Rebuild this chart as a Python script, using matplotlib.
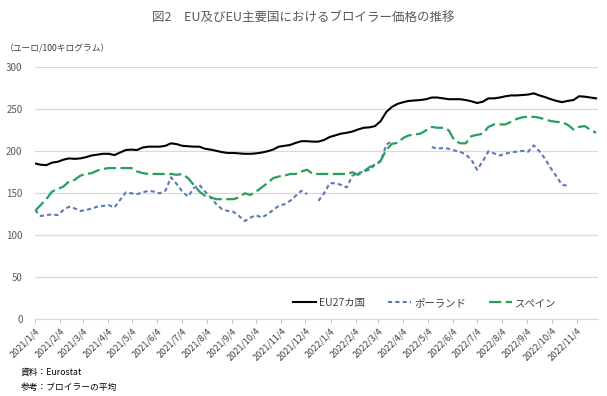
import matplotlib
matplotlib.use('Agg')
import matplotlib.pyplot as plt
import numpy as np
import pandas as pd

plt.rcParams['font.family'] = ['Noto Sans CJK JP', 'DejaVu Sans']

# weekly price data, euro / 100kg
weeks = pd.date_range('2021-01-04', periods=100, freq='7D')

eu27 = [185.5, 184, 183.5, 186.5, 187.5, 190, 191.5, 191, 191.5, 193,
        195, 196, 197, 197, 195.5, 198.5, 201.5, 202, 201.5, 204.5,
        205.5, 205.5, 205.5, 206.5, 209.5, 208.5,
        206.5, 206, 205.5, 205.5, 203, 202, 200.5, 199, 198, 198,
        197.5, 197, 197, 197.5, 198.5, 200, 202, 205.5, 206.5, 207.5,
        210, 212, 212, 211.5, 211.5,
        213.5, 217, 219, 221, 222, 223.5, 226, 228, 228.5, 230,
        236, 247, 253, 256.5, 258.5, 260, 260.5, 261, 262, 264,
        264, 263, 262, 262, 262,
        261, 259.5, 257.5, 259, 263, 263, 264, 265.5, 266.5, 266.5,
        267, 267.5, 269, 266.5, 264.5, 262, 260, 258.5, 260, 261,
        265.5, 265, 264, 263]

nan = np.nan
poland = [130, 123, 124, 125, 124, 130, 134, 132, 129, 130,
          132, 134, 135, 136, 133, 142, 151, 150, 149, 151,
          153, 152, 150, 153, 169, 161,
          152, 146, 156, 160, 152, 145, 137, 131, 129, 128,
          123, 117, 121, 124, 121, 125, 130, 135, 137, 141,
          147, 153, 149, nan,
          141, 150, 162, 162, 160, 157, 171, 174, 176, 178,
          184, 188, 208, 212,
          nan, nan, nan, nan, nan, nan,
          205, 203, 204, 203, 201, 199.5, 196, 190, 178, 188,
          200, 197.5, 195, 197, 199, 199.5, 200.5, 199.5, 207, 200,
          191, 180, 170, 160, 159,
          nan, nan, nan, nan, nan]

spain = [129, 136, 143, 152, 155, 158, 164, 166, 171, 173,
         174, 177, 179, 180, 180, 180, 180, 180, 176, 174,
         173, 173, 173, 173, 173, 172,
         173, 168, 160, 152, 147, 145, 143, 143, 143, 143,
         145, 150, 148, 152, 157, 162, 168, 170, 171, 173,
         173, 176, 178, 173, 173,
         173, 173, 173, 173, 173, 175, 172, 176, 181, 184,
         189, 202, 209, 210, 216, 219, 220, 221, 225, 229,
         228, 228, 225, 213, 209.5,
         209.5, 218, 219.5, 221, 229, 232, 232, 232, 235, 238.5,
         240.5, 241, 241, 240, 238, 236, 235, 234.5, 231.5, 226,
         229, 230, 225.5, 222]

tick_dates = pd.date_range('2021-01-01', periods=23, freq='MS') + pd.Timedelta(days=3)
tick_labels = ['2021/1/4', '2021/2/4', '2021/3/4', '2021/4/4', '2021/5/4', '2021/6/4',
               '2021/7/4', '2021/8/4', '2021/9/4', '2021/10/4', '2021/11/4', '2021/12/4',
               '2022/1/4', '2022/2/4', '2022/3/4', '2022/4/4', '2022/5/4', '2022/6/4',
               '2022/7/4', '2022/8/4', '2022/9/4', '2022/10/4', '2022/11/4']

fig = plt.figure(figsize=(6.07, 3.96), dpi=100)
ax = fig.add_axes([0.0577, 0.1937, 0.927, 0.6364])

ax.plot(weeks, eu27, color='black', lw=1.5, label='EU27カ国')
ax.plot(weeks, poland, color='#5B79B6', lw=1.5, dashes=(2, 1.5), label='ポーランド')
ax.plot(weeks, spain, color='#25A05A', lw=1.6, dashes=(5.5, 2), label='スペイン')

ax.set_ylim(0, 300)
ax.set_yticks(range(0, 301, 50))
ax.set_xlim(pd.Timestamp('2021-01-04'), pd.Timestamp('2022-11-30'))
ax.set_xticks(tick_dates)
ax.set_xticklabels(tick_labels, rotation=45, ha='right', rotation_mode='anchor',
                   fontsize=6.5, color='#404040')
ax.tick_params(axis='x', length=3, color='#BFBFBF', pad=2)
ax.tick_params(axis='y', length=0, labelsize=7, labelcolor='#595959', pad=9)
ax.grid(axis='y', color='#D9D9D9', lw=0.9)
ax.set_axisbelow(True)
for s in ['top', 'right', 'left']:
    ax.spines[s].set_visible(False)
ax.spines['bottom'].set_color('#D9D9D9')

fig.legend(loc='center', bbox_to_anchor=(0.70, 0.235), ncol=3, frameon=False,
           fontsize=7.5, handlelength=2.2, columnspacing=2.2, handletextpad=0.3,
           labelcolor='#404040')

fig.text(0.5, 0.957, '図2　EU及びEU主要国におけるブロイラー価格の推移', ha='center', va='center',
         fontsize=9, color='#595959')
fig.text(0.008, 0.877, '（ユーロ/100キログラム）', ha='left', va='center', fontsize=6.3,
         color='#404040')
fig.text(0.034, 0.061, '資料：Eurostat', ha='left', va='center', fontsize=6.3)
fig.text(0.034, 0.022, '参考：ブロイラーの平均', ha='left', va='center', fontsize=6.3)

fig.savefig('out.png', dpi=100)
